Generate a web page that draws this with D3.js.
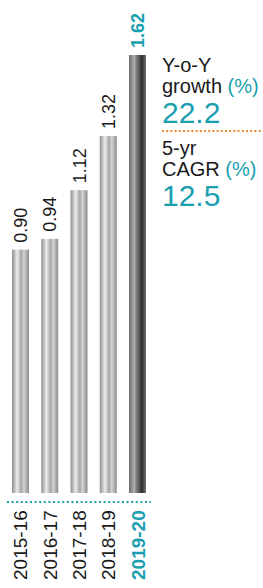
<!doctype html>
<html lang="en">
<head>
	<meta charset="UTF-8">
	<title>Bar chart</title>
	<script src="https://cdn.jsdelivr.net/npm/d3@7"></script>
	<style>
		body { margin: 0; background: #fff; }
		text { font-family: "Myriad Pro", "Liberation Sans", Arial, sans-serif; }
	</style>
</head>
<body>

	<script type="text/javascript">
		var w = 263, h = 588;
		var teal = "#1a9fb0", orange = "#f08a2c", ink = "#1a1a1a";

		// data
		var years = ["2015-16", "2016-17", "2017-18", "2018-19", "2019-20"];
		var values = [0.90, 0.94, 1.12, 1.32, 1.62];
		var statTitles = [["Y-o-Y", "growth"], ["5-yr", "CAGR"]];
		var statValues = ["22.2", "12.5"];

		var svg = d3.select("body").append("svg")
			.attr("width", w)
			.attr("height", h);

		var x = d3.scaleBand()
			.domain(years)
			.range([12, 146])
			.paddingInner(0.42)
			.paddingOuter(0);

		var y = d3.scaleLinear()
			.domain([0, 1.62])
			.range([493, 55]);

		// cylinder-ish gradients
		var defs = svg.append("defs");
		function grad(id, stops) {
			var g = defs.append("linearGradient").attr("id", id)
				.attr("x1", "0%").attr("x2", "100%").attr("y1", "0%").attr("y2", "0%");
			stops.forEach(function(s) {
				g.append("stop").attr("offset", s[0]).attr("stop-color", s[1]);
			});
		}
		grad("barGrey", [[0, "#8e8e8e"], [0.12, "#b3b3b3"], [0.3, "#ececec"], [0.42, "#cacaca"],
			[0.55, "#a6a6a6"], [0.7, "#d4d4d4"], [0.85, "#b0b0b0"], [1, "#888"]]);
		grad("barDark", [[0, "#6a6a6a"], [0.15, "#8c8c8c"], [0.3, "#b2b2b2"], [0.45, "#7a7a7a"],
			[0.6, "#5a5a5a"], [0.75, "#2e2e2e"], [0.88, "#505050"], [1, "#747474"]]);

		var last = years.length - 1;

		svg.selectAll("rect.bar")
			.data(values)
			.enter()
			.append("rect")
			.attr("class", "bar")
			.attr("x", function(d, i) { return x(years[i]); })
			.attr("y", function(d) { return y(d); })
			.attr("width", x.bandwidth())
			.attr("height", function(d) { return y(0) - y(d); })
			.attr("fill", function(d, i) { return i === last ? "url(#barDark)" : "url(#barGrey)"; });

		// value labels, rotated
		svg.selectAll("text.val")
			.data(values)
			.enter()
			.append("text")
			.attr("class", "val")
			.attr("transform", function(d, i) {
				var cx = x(years[i]) + x.bandwidth() / 2 + 6.5;
				return "translate(" + cx + "," + (y(d) - 7) + ") rotate(-90)";
			})
			.attr("font-size", "18px")
			.attr("font-weight", function(d, i) { return i === last ? "bold" : "normal"; })
			.attr("fill", function(d, i) { return i === last ? teal : ink; })
			.text(function(d) { return d.toFixed(2); });

		// dotted baseline
		svg.append("line")
			.attr("x1", 7).attr("x2", 151)
			.attr("y1", 502).attr("y2", 502)
			.attr("stroke", teal)
			.attr("stroke-width", 2)
			.attr("stroke-dasharray", "2 2.6");

		// year labels
		svg.selectAll("text.year")
			.data(years)
			.enter()
			.append("text")
			.attr("class", "year")
			.attr("transform", function(d) {
				var cx = x(d) + x.bandwidth() / 2 + 7;
				return "translate(" + cx + ",580) rotate(-90)";
			})
			.attr("font-size", "19px")
			.attr("font-weight", function(d, i) { return i === last ? "bold" : "normal"; })
			.attr("fill", function(d, i) { return i === last ? teal : ink; })
			.text(function(d) { return d; });

		// growth stats on the right
		var statTop = [72, 155];
		statTitles.forEach(function(t, i) {
			var g = svg.append("g").attr("transform", "translate(162," + statTop[i] + ")");
			g.append("text").attr("font-size", "20px").attr("fill", ink).text(t[0]);
			var l2 = g.append("text").attr("y", 21).attr("font-size", "20px").attr("fill", ink);
			l2.append("tspan").text(t[1] + " ");
			l2.append("tspan").attr("fill", teal).text("(%)");
			g.append("text").attr("y", 51).attr("font-size", "30px")
				.attr("fill", teal).text(statValues[i]);
		});

		svg.append("line")
			.attr("x1", 162).attr("x2", 263)
			.attr("y1", 131).attr("y2", 131)
			.attr("stroke", orange)
			.attr("stroke-width", 2)
			.attr("stroke-dasharray", "2 2.2");

	</script>

</body>
</html>
